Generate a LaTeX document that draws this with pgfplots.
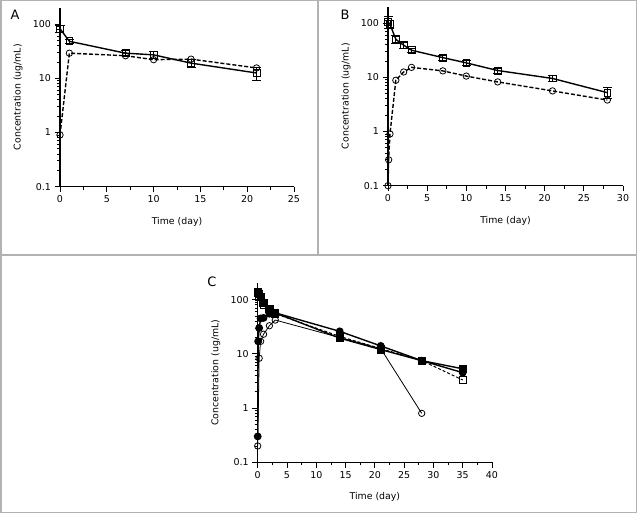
\documentclass[border=0pt]{standalone}
\usepackage{pgfplots}
\pgfplotsset{compat=1.18}
\usepackage{fontspec}
\setmainfont{DejaVu Sans}
\pgfplotsset{
  myax/.style={
    scale only axis,
    axis lines=left, axis line style={-, line width=1.1bp},
    tick align=outside, major tick length=5.5bp, minor tick length=3bp,
    ymin=0.1, ymax=200, xmin=0, minor x tick num=1,
    yticklabel={\pgfmathparse{exp(\tick)}\pgfmathprintnumber[fixed, precision=1]{\pgfmathresult}},
    tick style={black, line width=0.8bp},
    tick label style={font=\fontsize{9.5}{11}\selectfont},
    xlabel={Time (day)}, ylabel={Concentration (ug/mL)},
    xlabel style={font=\fontsize{9.4}{11}\selectfont, at={(axis description cs:0.5,0)}, yshift=-35bp, anchor=center},
    ylabel style={font=\fontsize{9.4}{11}\selectfont, anchor=center},
    /pgf/number format/assume math mode=true,
    clip=false, height=179bp, anchor=south west,
  },
  solidsq/.style={black, line width=1.4bp, mark=square, mark size=3.4bp, mark options={solid, fill=white, line width=0.8bp},
    error bars/.cd, y dir=both, y explicit, error bar style={line width=0.8bp, solid}, error mark options={rotate=90, mark size=4.5bp, line width=0.8bp}},
  dashci/.style={black, line width=1.4bp, dash pattern=on 4bp off 2bp, mark=o, mark size=3.2bp, mark options={solid, fill=white, line width=0.8bp}},
}
\begin{document}
\begin{tikzpicture}
\path[use as bounding box] (0bp,0bp) rectangle (637bp,513bp);
\draw[black!30, line width=1.5bp] (0.75bp,0.75bp) rectangle (636.25bp,512.25bp);
\draw[black!30, line width=1.5bp] (0bp,258bp) -- (637bp,258bp);
\draw[black!30, line width=1.5bp] (318bp,258bp) -- (318bp,513bp);
\node[font=\fontsize{13}{15}\selectfont] at (15bp,498bp) {A};
\node[font=\fontsize{13}{15}\selectfont] at (345bp,498bp) {B};
\node[font=\fontsize{13}{15}\selectfont] at (212bp,231bp) {C};
% Panel A
\begin{semilogyaxis}[myax, at={(60bp,326.3bp)}, width=234bp, xmax=25, xtick={0,5,...,25}, xticklabels={0,5,10,15,20,25},
  ylabel style={at={(axis description cs:-0.179,0.5)}}]
\addplot[solidsq] coordinates {(0,82) +- (0,12) (1,48) +- (0,5) (7,29) +- (0,3) (10,27) +- (0,4) (14,19) +- (0,3) (21,12.5) +- (0,3.3)};
\addplot[dashci] coordinates {(0,0.9) (1,29) (7,26) (10,22) (14,22.5) (21,15.5)};
\end{semilogyaxis}
% Panel B
\begin{semilogyaxis}[myax, at={(388bp,327.3bp)}, width=235bp, xmax=30, xtick={0,5,...,30}, xticklabels={0,5,10,15,20,25,30},
  ylabel style={at={(axis description cs:-0.179,0.5)}}]
\addplot[solidsq] coordinates {(0,105) +- (0,25) (0.25,95) +- (0,15) (1,50) +- (0,8) (2,39) +- (0,5) (3,31.5) +- (0,3) (7,23) +- (0,2.5) (10,18.4) +- (0,2) (14,13.3) +- (0,1.5) (21,9.5) +- (0,1.2) (28,5.2) +- (0,1.2)};
\addplot[dashci] coordinates {(0,0.1) (0.083,0.3) (0.25,0.9) (1,8.8) (2,12.5) (3,15.2) (7,13.1) (10,10.5) (14,8.2) (21,5.6) (28,3.8)};
\end{semilogyaxis}
% Panel C
\begin{semilogyaxis}[myax, at={(257.7bp,50.7bp)}, width=234.3bp, xmax=40, xtick={0,5,...,40}, xticklabels={0,5,10,15,20,25,30,35,40},
  ylabel style={at={(axis description cs:-0.179,0.5)}}]
\addplot[black, line width=1.4bp, mark=square*, mark size=3.4bp] coordinates {(0,140) (0.25,125) (0.5,110) (1,87) (2,67) (3,57) (14,19.5) (21,12) (28,7.5) (35,5.3)};
\addplot[black, line width=1.4bp, mark=*, mark size=3.2bp] coordinates {(0,0.3) (0.083,17) (0.25,30) (0.5,45) (1,46) (2,55) (3,57) (14,26) (21,14) (28,7.5) (35,4.5)};
\addplot[black, line width=0.8bp, mark=o, mark size=3.2bp, mark options={fill=white}] coordinates {(0,0.2) (0.25,8.3) (0.5,17) (1,23) (2,33) (3,42) (14,20) (21,12.5) (28,0.8)};
\addplot[black, line width=1bp, dash pattern=on 3bp off 2bp, mark=square, mark size=3.4bp, mark options={solid, fill=white}] coordinates {(0,130) (0.25,110) (1,80) (2,60) (3,55) (14,21) (21,12.5) (28,7.5) (35,3.3)};
\end{semilogyaxis}
\end{tikzpicture}
\end{document}
